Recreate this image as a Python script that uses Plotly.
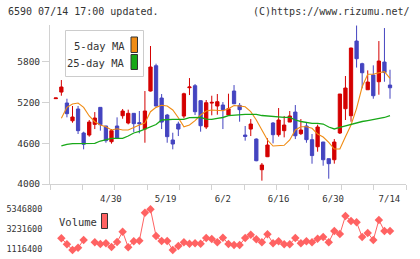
import plotly.graph_objects as go

# ---------------- data ----------------
opens = [5255, 5352, 5191, 4930, 5103, 4750, 4720, 4877, 5127, 4853,
         4622, 4853, 5004, 4897, 5039, 4902, 4808, 5367, 5739, 5264,
         5014, 4647, 4882, 4999, 5416, 5445, 5225, 4838, 5190, 5147,
         5161, 5014, 5367, 5156, 4720, 4808, 4661, 4210, 4401, 4897,
         4725, 4784, 4911, 5058, 4740, 4853, 4652, 4548, 4617, 4372,
         4357, 4750, 5107, 5004, 6102, 5769, 5386, 5602, 5504, 5793,
         5455]
highs = [5265, 5529, 5254, 5147, 5147, 4769, 4941, 5058, 5130, 4855,
         4808, 4980, 5103, 5093, 5042, 5073, 5367, 6029, 5769, 5323,
         5030, 4754, 4916, 5342, 5558, 5470, 5230, 5235, 5298, 5323,
         5205, 5328, 5455, 5191, 4853, 4955, 4670, 4309, 4672, 4911,
         5117, 5000, 5073, 5161, 4955, 4911, 4735, 4872, 4620, 4375,
         4661, 5323, 5588, 6005, 6330, 5783, 5671, 5745, 6102, 6293,
         5680]
lows = [5255, 5298, 4980, 4901, 4735, 4510, 4696, 4808, 4784, 4607,
        4593, 4668, 4960, 4877, 4764, 4745, 4607, 5360, 5140, 4808,
        4607, 4510, 4705, 4965, 5308, 5014, 4769, 4808, 5010, 5019,
        4808, 5010, 5175, 4916, 4637, 4705, 4335, 4049, 4396, 4598,
        4696, 4686, 4911, 4661, 4720, 4607, 4298, 4475, 4269, 4078,
        4299, 4735, 4941, 4916, 5712, 5407, 5386, 5254, 5313, 5504,
        5254]
closes = [5265, 5426, 5034, 4985, 4784, 4584, 4911, 4970, 4872, 4637,
          4784, 4672, 5073, 5039, 4887, 4887, 5073, 5720, 5147, 4911,
          4696, 4588, 4808, 5327, 5426, 5063, 4857, 5195, 5200, 5210,
          5093, 5107, 5180, 5093, 4700, 4882, 4342, 4279, 4573, 4725,
          4941, 4867, 5000, 4710, 4794, 4652, 4418, 4838, 4357, 4299,
          4617, 5323, 5411, 5999, 5842, 5636, 5499, 5298, 5808, 5639,
          5415]
ma5 = [None, 4966, 5127, 5176, 5191, 5127, 5000, 4916, 4867, 4842,
       4794, 4813, 4794, 4794, 4833, 4867, 4897, 5063, 5127, 5157,
       5147, 5088, 4975, 4842, 4867, 4931, 5014, 5073, 5088, 5078,
       5078, 5107, 5154, 5147, 5136, 5063, 4941, 4794, 4647, 4558,
       4558, 4569, 4647, 4794, 4842, 4842, 4819, 4735, 4691, 4613,
       4515, 4515, 4695, 4867, 5113, 5430, 5613, 5613, 5636, 5651,
       5554]
ma25 = [None, 4559, 4584, 4595, 4598, 4598, 4598, 4598, 4632, 4654,
        4672, 4672, 4672, 4706, 4750, 4775, 4809, 4845, 4875, 4941,
        4951, 4951, 4951, 4951, 4975, 4980, 4980, 4955, 4951, 4966,
        4978, 5004, 5014, 5025, 5025, 5025, 5025, 5007, 5000, 4992,
        4980, 4980, 4980, 4941, 4919, 4904, 4892, 4892, 4882, 4838,
        4809, 4831, 4853, 4875, 4904, 4919, 4933, 4948, 4963, 4978,
        5007]
volume = [None, 2248000, 1613000, 1010000, 1254000, 2068000, None, 1825000, 1645000, 1719000,
          1328000, 1857000, 2946000, 1296000, 1931000, 1994000, 4956000, 5315000, 2491000, 1963000,
          1963000, 1010000, 1434000, 1825000, 1677000, 1719000, 1677000, 2280000, 2174000, 1825000,
          2311000, 1645000, 1539000, 1539000, 2280000, 2629000, 2142000, 1825000, 2671000, 1719000,
          1931000, 1613000, 1613000, 2280000, 1719000, 1931000, 1825000, 2206000, 2386000, 1825000,
          3020000, 2703000, 4607000, 4078000, 3940000, 2386000, 2809000, 2068000, 4183000, 3020000,
          3020000]
date_labels = ["4/30", "5/19", "6/2", "6/16", "6/30", "7/14"]
price_ticks = [4000, 4600, 5200, 5800]
volume_ticks = [1116400, 3231600, 5346800]

idx = list(range(len(opens)))

# ---------------- style ----------------
RED = "#d40000"
BLUE = "#4444c0"
ORANGE = "#f08c14"
GREEN = "#18a818"
SALMON = "#ff6262"
AXIS = "#d2d2d2"
TXT = "#333333"
FONT = "DejaVu Sans Mono"

W, H = 420, 259
ML, MR, MT, MB = 50, 14, 25, 2
PW, PH = W - ML - MR, H - MT - MB


def px(x):
    return (x - ML) / PW


def py(y):
    return (H - MB - y) / PH


XR = [-1.04, 62.87]
label_pos = [9.9, 19.7, 30.0, 40.0, 49.8, 59.9]

fig = go.Figure()
fig.add_trace(go.Candlestick(
    x=idx, open=opens, high=highs, low=lows, close=closes,
    xaxis="x", yaxis="y",
    increasing=dict(fillcolor=RED, line=dict(color=RED, width=1)),
    decreasing=dict(fillcolor=BLUE, line=dict(color=BLUE, width=1)),
    whiskerwidth=0, showlegend=False, hoverinfo="skip"))
fig.add_trace(go.Scatter(x=idx, y=ma5, mode="lines", xaxis="x", yaxis="y",
                         line=dict(color=ORANGE, width=1.1), showlegend=False))
fig.add_trace(go.Scatter(x=idx, y=ma25, mode="lines", xaxis="x", yaxis="y",
                         line=dict(color=GREEN, width=1.3), showlegend=False))
fig.add_trace(go.Scatter(x=[], y=[], xaxis="x2", yaxis="y", showlegend=False))
fig.add_trace(go.Scatter(x=idx, y=volume, mode="lines+markers", xaxis="x3", yaxis="y3",
                         connectgaps=False,
                         line=dict(color=SALMON, width=1),
                         marker=dict(symbol="diamond", size=6.5, color=SALMON),
                         showlegend=False))

main_bottom = py(184)
vol_top = py(203)
vol_bottom_val = volume_ticks[0] - 8 * 105760
vol_top_val = volume_ticks[0] + 46 * 105760

fig.update_layout(
    template="none",
    width=W, height=H,
    margin=dict(l=ML, r=MR, t=MT, b=MB, autoexpand=False),
    paper_bgcolor="white", plot_bgcolor="white",
    font=dict(family=FONT, color=TXT, size=10),
    boxgap=0.16,
    xaxis=dict(domain=[0, 1], range=XR, anchor="y", automargin=False,
               showline=True, linecolor=AXIS, linewidth=1,
               ticks="outside", ticklen=6, tickcolor="rgba(0,0,0,0)",
               tickvals=label_pos, ticktext=date_labels,
               tickfont=dict(size=9, color=TXT),
               showgrid=False, zeroline=False,
               rangeslider=dict(visible=False)),
    xaxis2=dict(overlaying="x", anchor="y", range=[0, 11], side="bottom", automargin=False,
                tickvals=list(range(12)), ticks="outside", ticklen=5,
                tickcolor=AXIS, tickwidth=1, showticklabels=False,
                showgrid=False, zeroline=False, showline=False),
    yaxis=dict(domain=[main_bottom, 1], range=[4000, 6338], anchor="x", automargin=False,
               tickvals=price_ticks, ticktext=[str(v) for v in price_ticks],
               ticks="outside", ticklen=7, tickcolor=AXIS,
               showline=True, linecolor=AXIS, linewidth=1,
               showgrid=False, zeroline=False,
               tickfont=dict(size=9.5, color=TXT)),
    xaxis3=dict(domain=[0, 1], range=XR, anchor="y3", visible=False, automargin=False),
    yaxis3=dict(domain=[0, vol_top], range=[vol_bottom_val, vol_top_val], anchor="x3",
                automargin=False,
                tickvals=volume_ticks, ticktext=[str(v) for v in volume_ticks],
                ticks="outside", ticklen=5, tickcolor="rgba(0,0,0,0)",
                showline=False, showgrid=False, zeroline=False,
                tickfont=dict(size=8.5, color=TXT)),
)

shapes = []
# legend box
shapes.append(dict(type="rect", xref="paper", yref="paper",
                   x0=px(65.5), x1=px(143.5), y0=py(76.5), y1=py(30.5),
                   line=dict(color="#cccccc", width=1), fillcolor="white"))
shapes.append(dict(type="rect", xref="paper", yref="paper",
                   x0=px(131), x1=px(137.5), y0=py(52.5), y1=py(37),
                   line=dict(color="#333333", width=1), fillcolor=ORANGE))
shapes.append(dict(type="rect", xref="paper", yref="paper",
                   x0=px(131), x1=px(137.5), y0=py(69.5), y1=py(54.5),
                   line=dict(color="#333333", width=1), fillcolor=GREEN))
shapes.append(dict(type="rect", xref="paper", yref="paper",
                   x0=px(101.5), x1=px(107.5), y0=py(228.5), y1=py(213.5),
                   line=dict(color="#333333", width=1), fillcolor=SALMON))
fig.update_layout(shapes=shapes)

annos = [
    dict(text="6590 07/14 17:00 updated.", x=px(7), y=py(12), xanchor="left", size=10),
    dict(text="(C)https://www.rizumu.net/", x=px(411), y=py(12), xanchor="right", size=10),
    dict(text="5-day MA", x=px(126), y=py(45.5), xanchor="right", size=10.5),
    dict(text="25-day MA", x=px(126), y=py(62.5), xanchor="right", size=10.5),
    dict(text="Volume", x=px(58), y=py(222), xanchor="left", size=10.5),
]
for a in annos:
    fig.add_annotation(text=a["text"], x=a["x"], y=a["y"], xref="paper", yref="paper",
                       xanchor=a["xanchor"], yanchor="middle", showarrow=False,
                       font=dict(family=FONT, size=a["size"], color=TXT), borderpad=0)

fig.write_html("out.html")
